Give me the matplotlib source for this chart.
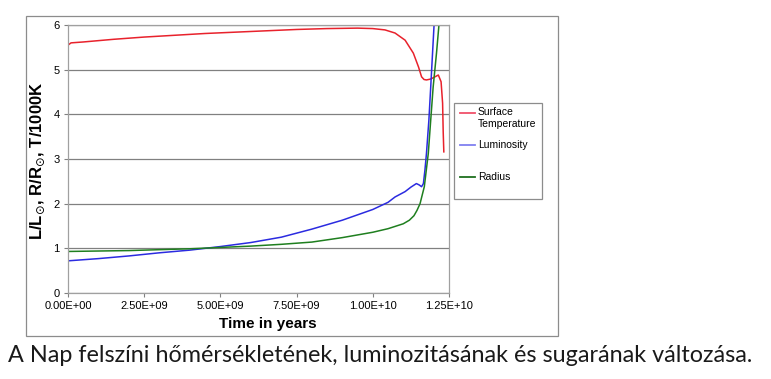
import matplotlib
matplotlib.use("Agg")
import matplotlib.pyplot as plt
from matplotlib.lines import Line2D
from matplotlib.patches import Rectangle

# ---- data (time in years) ----
t_temp = [0, 0.1e9, 0.5e9, 1.5e9, 2.5e9, 3.5e9, 4.5e9, 5.5e9, 6.5e9, 7.5e9, 8.5e9, 9.5e9,
          10.0e9, 10.4e9, 10.73e9, 11.06e9, 11.33e9, 11.5e9, 11.6e9, 11.68e9, 11.76e9, 11.9e9,
          12.04e9, 12.15e9, 12.24e9, 12.29e9, 12.31e9, 12.33e9]
temp = [5.55, 5.6, 5.62, 5.68, 5.73, 5.77, 5.81, 5.84, 5.87, 5.9, 5.92, 5.93,
        5.92, 5.89, 5.82, 5.66, 5.37, 5.06, 4.84, 4.78, 4.77, 4.79,
        4.84, 4.88, 4.73, 4.25, 3.6, 3.16]

t_lum = [0, 1e9, 2e9, 3e9, 4e9, 5e9, 6e9, 7e9, 8e9, 9e9, 10e9, 10.5e9, 10.73e9, 11.06e9,
         11.25e9, 11.43e9, 11.52e9, 11.6e9, 11.66e9, 11.71e9, 11.76e9, 11.84e9, 11.9e9,
         11.96e9, 12.01e9, 12.03e9]
lum = [0.72, 0.77, 0.83, 0.9, 0.96, 1.04, 1.13, 1.25, 1.43, 1.63, 1.87, 2.03, 2.15, 2.27,
       2.37, 2.45, 2.42, 2.38, 2.45, 2.75, 3.12, 3.87, 4.61, 5.37, 6.0, 6.5]

t_rad = [0, 1e9, 2e9, 3e9, 4e9, 5e9, 6e9, 7e9, 8e9, 9e9, 10e9, 10.5e9, 11e9, 11.2e9,
         11.35e9, 11.45e9, 11.55e9, 11.69e9, 11.82e9, 11.9e9, 11.98e9, 12.09e9, 12.17e9, 12.2e9]
rad = [0.93, 0.94, 0.95, 0.97, 0.99, 1.02, 1.05, 1.09, 1.14, 1.24, 1.36, 1.44, 1.55, 1.63,
       1.73, 1.85, 2.0, 2.38, 3.12, 3.87, 4.61, 5.37, 6.0, 6.3]

x_ticks = [0, 2.5e9, 5e9, 7.5e9, 10e9, 12.5e9]
x_tick_labels = ["0.00E+00", "2.50E+09", "5.00E+09", "7.50E+09", "1.00E+10", "1.25E+10"]
y_ticks = [0, 1, 2, 3, 4, 5, 6]
series_labels = ["Surface\nTemperature", "Luminosity", "Radius"]
colors = ["#e8222c", "#2b2be0", "#1f7f1f"]
legend_colors = ["#f0506a", "#8080f0", "#1f6f1f"]

W, H = 771, 379
fig = plt.figure(figsize=(W / 100, H / 100), dpi=100)
plt.rcParams["font.family"] = ["Liberation Sans", "DejaVu Sans"]

def fx(px):
    return px / W

def fy(py):
    return 1 - py / H

# outer chart frame
fig.add_artist(Rectangle((fx(26), fy(336)), fx(558) - fx(26), fy(16) - fy(336),
                         transform=fig.transFigure, fill=False, edgecolor="#8c8c8c", lw=0.9))

ax = fig.add_axes([fx(68), fy(293), fx(449) - fx(68), fy(25) - fy(293)])
ax.plot(t_temp, temp, color=colors[0], lw=1.1)
ax.plot(t_lum, lum, color=colors[1], lw=1.1)
ax.plot(t_rad, rad, color=colors[2], lw=1.1)

ax.set_xlim(0, 1.25e10)
ax.set_ylim(0, 6)
ax.set_xticks(x_ticks)
ax.set_xticklabels(x_tick_labels, fontsize=8)
ax.set_yticks(y_ticks)
ax.set_yticklabels([str(v) for v in y_ticks], fontsize=8)
ax.tick_params(direction="out", length=3, width=0.8, color="#808080", pad=3)
for s in ax.spines.values():
    s.set_color("#a0a0a0")
    s.set_linewidth(0.9)
ax.grid(axis="y", color="#808080", lw=0.9)
ax.set_axisbelow(True)

fig.text(fx(268), fy(324), "Time in years", fontsize=11, fontweight="bold",
         ha="center", va="center")
fig.text(fx(38), fy(161), r"L/L$_{\odot}$, R/R$_{\odot}$, T/1000K", fontsize=12,
         fontweight="bold", rotation=90, ha="center", va="center")

# legend box (manual, Excel-style spacing)
fig.add_artist(Rectangle((fx(454), fy(199)), fx(542) - fx(454), fy(103) - fy(199),
                         transform=fig.transFigure, fill=False, edgecolor="#8c8c8c", lw=0.9))
entry_y = [113, 145, 177]
for lab, c, yy in zip(series_labels, legend_colors, entry_y):
    fig.add_artist(Line2D([fx(460), fx(475)], [fy(yy), fy(yy)], color=c, lw=1.3,
                          transform=fig.transFigure))
    if "\n" in lab:
        fig.text(fx(478), fy(yy - 6), lab, fontsize=7.5, ha="left", va="top",
                 linespacing=1.3, transform=fig.transFigure)
    else:
        fig.text(fx(478), fy(yy), lab, fontsize=7.5, ha="left", va="center",
                 transform=fig.transFigure)

# caption
cap = fig.text(fx(8), fy(355), "A Nap felszíni hőmérsékletének, luminozitásának és sugarának változása.",
               fontsize=13, ha="left", va="center", family=["Lato", "DejaVu Sans"], color="#1a1a1a")
fig.canvas.draw()
bb = cap.get_window_extent()
cap.set_fontsize(13 * (742 / bb.width))

fig.savefig("out.png", dpi=100)
